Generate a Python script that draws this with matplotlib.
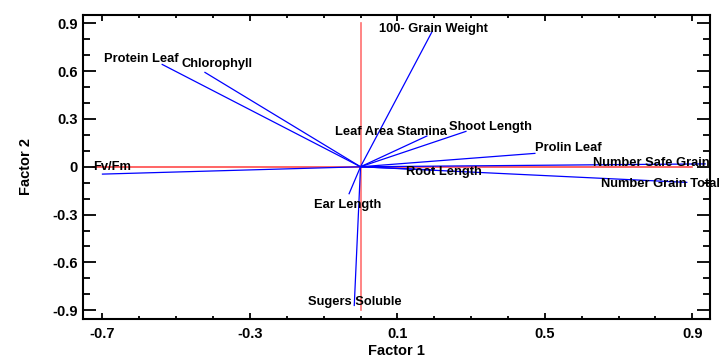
import matplotlib
matplotlib.use("Agg")
import matplotlib.pyplot as plt
from matplotlib.ticker import MultipleLocator, FixedLocator

# Loadings (Factor 1, Factor 2) for each variable
variables = ["100- Grain Weight", "Leaf Area Stamina", "Shoot Length", "Prolin Leaf",
             "Number Safe Grain", "Number Grain Total", "Root Length", "Protein Leaf",
             "Chlorophyll", "Fv/Fm", "Ear Length", "Sugers Soluble"]
factor1 = [0.193, 0.180, 0.286, 0.473, 0.935, 0.885, 0.200, -0.538, -0.422, -0.700, -0.031, -0.017]
factor2 = [0.843, 0.193, 0.222, 0.084, 0.018, -0.098, -0.020, 0.642, 0.592, -0.046, -0.169, -0.870]

x_ticks = [-0.7, -0.3, 0.1, 0.5, 0.9]
y_ticks = [-0.9, -0.6, -0.3, 0, 0.3, 0.6, 0.9]
x_tick_labels = ["-0.7", "-0.3", "0.1", "0.5", "0.9"]
y_tick_labels = ["-0.9", "-0.6", "-0.3", "0", "0.3", "0.6", "0.9"]

# label offsets (points) relative to vector end
label_offsets = [(-38, 0), (-66, 1), (-12, 1), (0, 2), (-81, -1.5), (-62, -3), (150, 0),
                 (-42, 2), (-17, 4), (-7, 3), (-25, -10), (-33, 0)]

plt.rcParams['font.family'] = ['Liberation Sans', 'DejaVu Sans']
plt.rcParams['font.weight'] = 'bold'

fig = plt.figure(figsize=(7.2, 3.62), dpi=100)
ax = fig.add_axes([0.1157, 0.1188, 0.8704, 0.8406])

ax.set_xlim(-0.752, 0.948)
ax.set_ylim(-0.955, 0.954)

red = '#ff4a4a'
ax.plot([-0.725, 0.9], [0, 0], color=red, lw=1.2, zorder=1)
ax.plot([0, 0], [-0.9, 0.9], color='#ff7070', lw=1.2, zorder=1)

for i, name in enumerate(variables):
    ax.plot([0, factor1[i]], [0, factor2[i]], color='#0000ff', lw=0.9, zorder=2)

for i, name in enumerate(variables):
    dx, dy = label_offsets[i]
    if name == "Root Length":
        ax.annotate(name, (0, 0), xytext=(33, -6), textcoords='offset points',
                    fontsize=9.3, fontweight='bold', ha='left', va='baseline',
                    zorder=3, annotation_clip=False)
        continue
    ax.annotate(name, (factor1[i], factor2[i]), xytext=(dx, dy), textcoords='offset points',
                fontsize=9.3, fontweight='bold', ha='left', va='baseline', zorder=3,
                annotation_clip=False)

ax.xaxis.set_major_locator(FixedLocator(x_ticks))
ax.yaxis.set_major_locator(FixedLocator(y_ticks))
ax.set_xticklabels(x_tick_labels)
ax.set_yticklabels(y_tick_labels)
ax.xaxis.set_minor_locator(MultipleLocator(0.1))
ax.yaxis.set_minor_locator(MultipleLocator(0.1))

ax.tick_params(axis='both', which='both', direction='in', top=True, right=True, width=1.3,
               labelsize=10.5)
ax.tick_params(axis='x', which='major', length=4.5, pad=6)
ax.tick_params(axis='x', which='minor', length=2.5)
ax.tick_params(axis='y', which='major', length=9.5, pad=4)
ax.tick_params(axis='y', which='minor', length=5)
for lab in ax.get_xticklabels() + ax.get_yticklabels():
    lab.set_fontweight('bold')

for sp in ax.spines.values():
    sp.set_linewidth(1.5)

ax.set_xlabel("Factor 1", fontsize=10.5, fontweight='bold', labelpad=2)
ax.set_ylabel("Factor 2", fontsize=10.5, fontweight='bold', labelpad=14)

fig.savefig("out.png", dpi=100)
